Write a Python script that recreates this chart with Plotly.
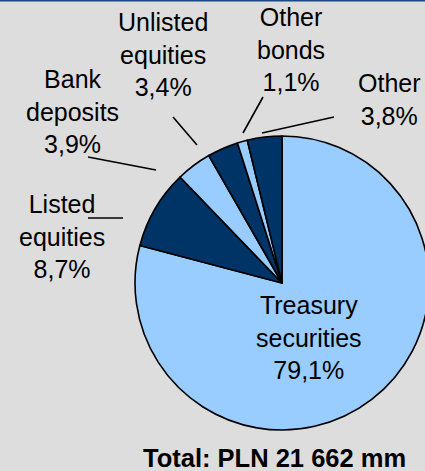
import plotly.graph_objects as go

# Portfolio structure (share of total, %), clockwise from 12 o'clock
categories = ["Treasury securities", "Listed equities", "Bank deposits",
              "Unlisted equities", "Other bonds", "Other"]
label_lines = [["Treasury", "securities"], ["Listed", "equities"], ["Bank", "deposits"],
               ["Unlisted", "equities"], ["Other", "bonds"], ["Other"]]
shares = [79.1, 8.7, 3.9, 3.4, 1.1, 3.8]
total_caption = "Total: PLN 21 662 mm"

LIGHT = "#99ccff"
DARK = "#003366"
slice_colors = [LIGHT, DARK, LIGHT, DARK, LIGHT, DARK]

W, H = 432, 471          # canvas; the right edge of the pie runs past the 425px view
CX, CY, R = 282, 283, 147


def px(x):
    return x / W


def py(y):
    return 1 - y / H


fig = go.Figure(go.Pie(
    labels=categories,
    values=shares,
    sort=False,
    direction="clockwise",
    rotation=0,
    marker=dict(colors=slice_colors, line=dict(color="black", width=1.6)),
    textinfo="none",
    hoverinfo="label+percent",
    showlegend=False,
    domain=dict(x=[px(CX - R), px(CX + R)], y=[py(CY + R), py(CY - R)]),
))

# label placement (pixel centres of the middle text line)
label_pos = [(309, 337), (62, 236), (72, 112), (163, 55), (291, 50), (389, 99.5)]

for lines, v, (lx, ly) in zip(label_lines, shares, label_pos):
    text = "<br>".join(lines + [f"{v:.1f}".replace(".", ",") + "%"])
    fig.add_annotation(x=px(lx), y=py(ly), xref="paper", yref="paper",
                       text=text, showarrow=False, xanchor="center", yanchor="middle",
                       font=dict(size=25, color="black"))

# leader lines from outside labels toward their slices
leaders = [((88, 218), (123, 218)),
           ((88, 157), (156, 170)),
           ((173, 117), (197, 145)),
           ((263, 97), (243, 133)),
           ((334, 117), (262, 133))]
for (x0, y0), (x1, y1) in leaders:
    fig.add_shape(type="line", xref="paper", yref="paper",
                  x0=px(x0), y0=py(y0), x1=px(x1), y1=py(y1),
                  line=dict(color="black", width=1.6))

# thin rule along the top edge
fig.add_shape(type="line", xref="paper", yref="paper", x0=0, x1=1, y0=1, y1=1,
              line=dict(color="#1a4a80", width=3))

fig.add_annotation(x=px(274.5), y=py(458), xref="paper", yref="paper",
                   text="<b>" + total_caption + "</b>", showarrow=False,
                   xanchor="center", yanchor="middle",
                   font=dict(size=25.5, color="black"))

fig.update_layout(
    width=W, height=H,
    margin=dict(l=0, r=0, t=0, b=0),
    paper_bgcolor="#dddddd",
    plot_bgcolor="#dddddd",
    font=dict(family="Liberation Sans, Arial, sans-serif"),
)

fig.write_html(
    "out.html",
    post_script="document.documentElement.style.overflow='hidden';"
                "document.body.style.overflow='hidden';document.body.style.margin='0';",
)
